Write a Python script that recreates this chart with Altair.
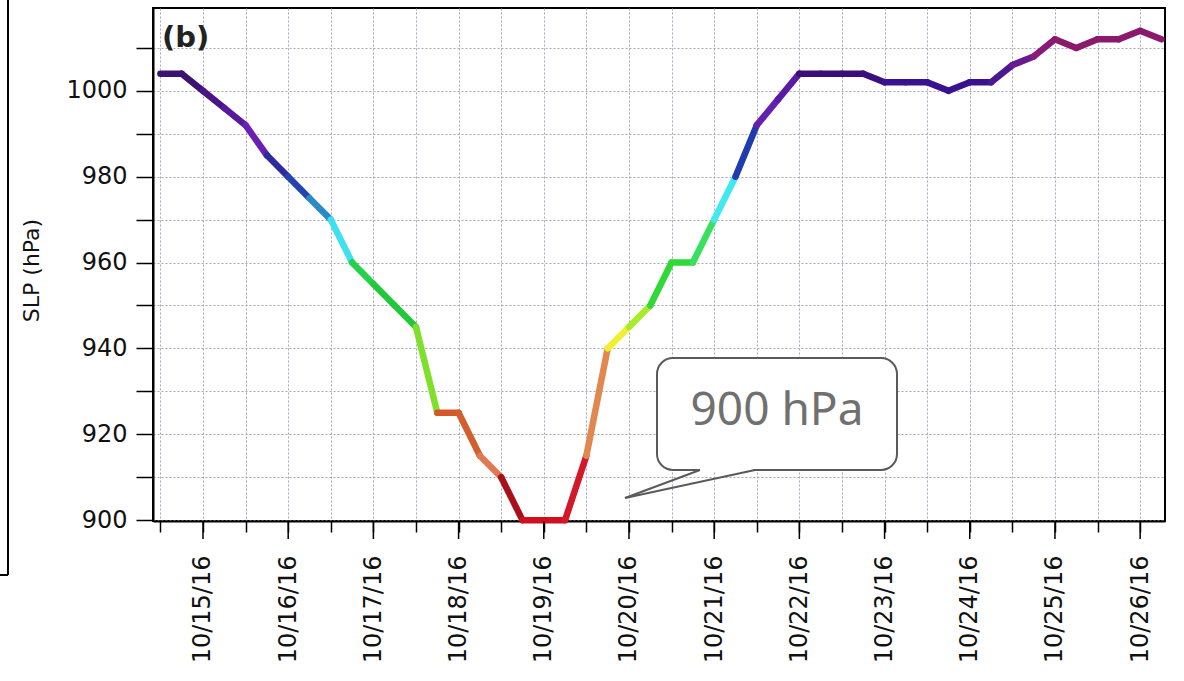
import altair as alt
import pandas as pd

# 6-hourly central pressure, starting 2016-10-14 12:00
start_time = "2016-10-14 12:00"
slp = [1004, 1004, 1000, 996, 992, 985, 980, 975, 970, 960,
       955, 950, 945, 925, 925, 915, 910, 900, 900, 900,
       915, 940, 945, 950, 960, 960, 970, 980, 992, 998,
       1004, 1004, 1004, 1004, 1002, 1002, 1002, 1000, 1002, 1002,
       1006, 1008, 1012, 1010, 1012, 1012, 1014, 1012]
times = pd.date_range(start_time, periods=len(slp), freq="6h")
day_ticks = pd.date_range("2016-10-15", "2016-10-26", freq="D")

seg_colors = [
    "#3c1470", "#3c1470", "#4a1488", "#561a9e", "#6a1fb5", "#2c2ca0", "#2344b0",
    "#2a8ac8", "#3fe0f0", "#25d04a", "#22c83c", "#22c83c", "#7ee02a", "#d4582a",
    "#d2602e", "#e07850", "#a8101e", "#d0101e", "#d0101e", "#d41828", "#e08850",
    "#f0f030", "#a8ec28", "#30d838", "#30d838", "#38e060", "#40e8f0", "#1e3cb0",
    "#6420b0", "#5a1aa8", "#3c0c78", "#3c0c78", "#3c0c78", "#3c0f80", "#3a1290",
    "#3a1290", "#3a1290", "#3a1290", "#3a1290", "#4a1890", "#6a1a90", "#8a1a78",
    "#8c1a6c", "#8c1a6c", "#8c1a6c", "#8c1a6c", "#8c1a6c",
]
y_ticks = list(range(900, 1011, 10))

rows = []
for k in range(len(slp) - 1):
    rows.append({"time": times[k], "slp": slp[k], "seg": k})
    rows.append({"time": times[k + 1], "slp": slp[k + 1], "seg": k})
df = pd.DataFrame(rows)
days_df = pd.DataFrame({"time": day_ticks})


def dt(ts):
    return alt.DateTime(year=ts.year, month=ts.month, date=ts.day, hours=ts.hour, minutes=ts.minute)


FONT = "DejaVu Sans"
GRID = "#a4a4bc"

x_scale = alt.Scale(
    domain=[alt.DateTime(year=2016, month=10, date=14, hours=9, minutes=55),
            alt.DateTime(year=2016, month=10, date=26, hours=7, minutes=0)],
    nice=False)

x_enc = alt.X(
    "time:T",
    scale=x_scale,
    axis=alt.Axis(
        title=None,
        values=[dt(t) for t in times],
        labelExpr="hours(datum.value) == 0 ? timeFormat(datum.value, '%m/%d/%y') : ''",
        labelAngle=270, labelAlign="right", labelBaseline="middle",
        labelPadding=23, labelFontSize=24, labelFont=FONT, labelColor="#111",
        labelOverlap=False, labelFlush=False,
        tickSize=11,
        tickColor="black", tickWidth=1.5, domainColor="black", domainWidth=2,
        grid=True, gridColor=GRID, gridDash=[2, 2], gridWidth=1,
    ),
)
y_enc = alt.Y(
    "slp:Q",
    scale=alt.Scale(domain=[899.8, 1019.3], nice=False, zero=False),
    axis=alt.Axis(
        title="SLP (hPa)", values=y_ticks, format="d",
        labelExpr="datum.value % 20 == 0 ? datum.label : ''",
        tickSize=17, labelPadding=9, labelFontSize=24, labelFont=FONT, labelColor="#111",
        tickColor="black", tickWidth=1.5, domainColor="black", domainWidth=2,
        titleFont=FONT, titleFontSize=22, titleFontWeight="normal", titleColor="#111",
        titleX=-122, titleY=262, titleAngle=270, titleBaseline="middle",
        grid=True, gridColor=GRID, gridDash=[2, 2], gridWidth=1,
    ),
)

line = alt.Chart(df).mark_line(strokeWidth=6.5, strokeCap="round", strokeJoin="round").encode(
    x=x_enc, y=y_enc,
    color=alt.Color("seg:N", scale=alt.Scale(domain=list(range(len(seg_colors))), range=seg_colors),
                    legend=None),
    detail="seg:N",
)

major_ticks = alt.Chart(days_df).mark_rule(stroke="black", strokeWidth=1.5).encode(
    x=alt.X("time:T", scale=x_scale), y=alt.value(513), y2=alt.value(531))

one = pd.DataFrame({"k": [0]})

panel_label = alt.Chart(one).mark_text(
    text="(b)", fontSize=29, fontWeight="bold", font=FONT, align="left", baseline="middle",
    color="#222"
).encode(x=alt.value(9), y=alt.value(30))

box = alt.Chart(one).mark_rect(
    fill="white", stroke="#5a5a5a", strokeWidth=2, cornerRadius=16
).encode(x=alt.value(504), x2=alt.value(744), y=alt.value(350), y2=alt.value(462))

gap = alt.Chart(one).mark_rule(stroke="white", strokeWidth=4).encode(
    x=alt.value(547), x2=alt.value(600), y=alt.value(462), y2=alt.value(462))

tail1 = alt.Chart(one).mark_rule(stroke="#5a5a5a", strokeWidth=2).encode(
    x=alt.value(547), y=alt.value(462), x2=alt.value(472), y2=alt.value(490))
tail2 = alt.Chart(one).mark_rule(stroke="#5a5a5a", strokeWidth=2).encode(
    x=alt.value(602), y=alt.value(462), x2=alt.value(472), y2=alt.value(490))

callout_text = alt.Chart(one).mark_text(
    text="900 hPa", fontSize=46, font="Noto Sans", color="#707070",
    align="center", baseline="middle"
).encode(x=alt.value(624), y=alt.value(403))

frame_v = alt.Chart(one).mark_rule(stroke="black", strokeWidth=2).encode(
    x=alt.value(-145), x2=alt.value(-145), y=alt.value(-8), y2=alt.value(567))
frame_h = alt.Chart(one).mark_rule(stroke="black", strokeWidth=2).encode(
    x=alt.value(-153), x2=alt.value(-145), y=alt.value(567), y2=alt.value(567))

chart = alt.layer(
    line, major_ticks, panel_label, box, gap, tail1, tail2, callout_text, frame_v, frame_h
).properties(
    width=1012, height=513,
    padding={"left": 153, "top": 8, "right": 19, "bottom": 160},
    autosize=alt.AutoSizeParams(type="none"),
    background="white",
).configure_view(stroke="black", strokeWidth=2)

chart.save("out.html", embed_options={"renderer": "svg", "actions": False})
